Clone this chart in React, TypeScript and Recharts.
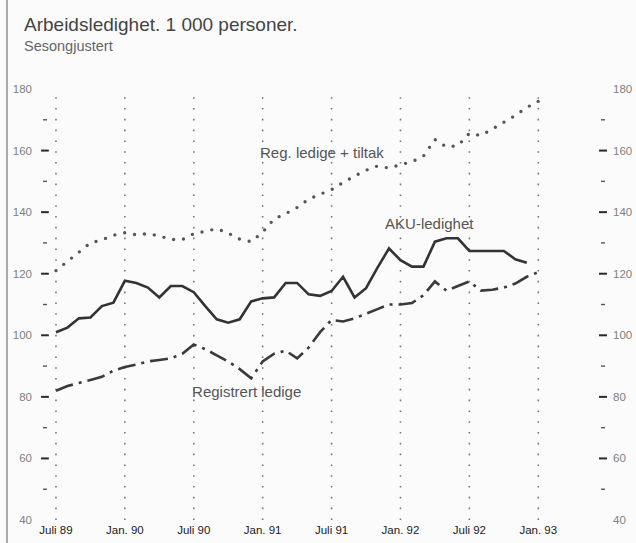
import React from "react"
import { LineChart, Line, XAxis, YAxis, ReferenceLine, ReferenceDot } from "recharts"

// monthly, Juli 89 .. Jan. 93 (43 months)
const akuLedighet = [
  101, 102.5, 105.5, 105.8, 109.5, 110.6, 117.7, 117, 115.5, 112.3, 116, 116, 114, 109.5, 105.2, 104.1, 105.2,
  111, 112, 112.3, 117, 117, 113.3, 112.8, 114.4, 119, 112.3, 115.3, 122, 128.2, 124.4, 122.3, 122.3, 130.4,
  131.5, 131.5, 127.4, 127.4, 127.4, 127.4, 124.7, 123.6, null,
]
const registrertLedige = [
  82, 83.5, 84.5, 85.5, 86.5, 88.5, 89.7, 90.5, 91.5, 92, 92.5, 94, 97, 95.5, 93.5, 91.5, 89, 86, 91.5, 94, 95,
  92.5, 96, 101, 105, 104.5, 105.5, 107, 108.5, 110, 110, 110.5, 113, 117.5, 114.5, 116, 117.5, 114.5, 114.8,
  115.5, 116.8, 119, 120.5,
]
const regLedigeTiltak = [
  121, 124, 127, 130, 131, 132.5, 133.3, 132.6, 133, 132.3, 131.1, 131.1, 133, 133.8, 134.6, 133.2, 131.2, 130.4,
  133.5, 137.8, 139.5, 141.5, 144.2, 145.8, 147.3, 149.6, 151.7, 153.6, 155, 154.3, 155.4, 156.4, 158.2, 163.6,
  161.2, 161.6, 165.6, 164.9, 167, 169.2, 171.4, 174, 176,
]
const xTickLabels = ["Juli 89", "Jan. 90", "Juli 90", "Jan. 91", "Juli 91", "Jan. 92", "Juli 92", "Jan. 93"]
const xTicks = xTickLabels.map((_, k) => k * 6)
const yTicks = [40, 50, 60, 70, 80, 90, 100, 110, 120, 130, 140, 150, 160, 170, 180]
const yMajorMarks = [60, 80, 100, 120, 140, 160]

const data = regLedigeTiltak.map((v, i) => ({
  i,
  aku: akuLedighet[i],
  reg: registrertLedige[i],
  tiltak: v,
}))

const font = "'Liberation Sans', Arial, sans-serif"

// short marks for the 10s, labels for every 20 (long left marks are reference segments below)
const YTick = ({ x, y, payload, side }: any) => {
  const v = Number(payload.value)
  const major = v % 20 === 0
  const edge = v === 40 || v === 180
  const left = side === "left"
  const d = left ? -1 : 1
  const len = major ? 8 : 4
  const start = major ? 1 : 3
  return (
    <g>
      {!edge && (left ? !major : true) && (
        <rect
          x={left ? x - start - len : x + start}
          y={y - (major ? 1 : 0.7)}
          width={len}
          height={major ? 2 : 1.4}
          fill={major ? "#2a2a2a" : "#555"}
        />
      )}
      {major && (
        <text
          x={x + d * (left ? 18 : 15)}
          y={y}
          textAnchor={left ? "end" : "start"}
          dominantBaseline="central"
          fontSize={11.5}
          fontFamily={font}
          fill="#808080"
        >
          {v}
        </text>
      )}
    </g>
  )
}

const label = (text: string) => (p: any) => (
  <text x={p.cx} y={p.cy} dominantBaseline="central" fontSize={15} fontFamily={font} fill="#555">
    {text}
  </text>
)

export default function App() {
  return (
    <div style={{ position: "relative", width: 636, height: 543, background: "#fbfbfb", overflow: "hidden" }}>
      <style>{"body{margin:0}"}</style>
      <div style={{ position: "absolute", left: 6, top: 0, width: 1.5, height: 543, background: "#aaa" }} />
      <div style={{ position: "absolute", left: 24, top: 14, fontFamily: font, color: "#444" }}>
        <div style={{ fontSize: 19, lineHeight: "22px" }}>Arbeidsledighet. 1 000 personer.</div>
        <div style={{ fontSize: 14.5, lineHeight: "20px", color: "#666" }}>Sesongjustert</div>
      </div>
      <LineChart width={636} height={543} data={data} margin={{ top: 89, right: 0, bottom: 0, left: 0 }}>
        <XAxis
          dataKey="i"
          type="number"
          domain={[-0.52, 47.2]}
          allowDataOverflow
          ticks={xTicks}
          interval={0}
          tickFormatter={(v: number) => xTickLabels[v / 6]}
          axisLine={false}
          tickLine={false}
          tickSize={0}
          tickMargin={6}
          height={23}
          tick={{ fontSize: 11.5, fill: "#1a1a1a", fontFamily: font }}
        />
        <YAxis
          yAxisId="left"
          orientation="left"
          domain={[40, 180]}
          ticks={yTicks}
          interval={0}
          width={50}
          axisLine={false}
          tickLine={false}
          tickSize={0}
          tickMargin={0}
          tick={<YTick side="left" />}
        />
        <YAxis
          yAxisId="right"
          orientation="right"
          domain={[40, 180]}
          ticks={yTicks}
          interval={0}
          width={38}
          axisLine={false}
          tickLine={false}
          tickSize={0}
          tickMargin={0}
          tick={<YTick side="right" />}
        />
        {xTicks.map((t) => (
          <ReferenceLine
            key={t}
            yAxisId="left"
            x={t}
            stroke="#777"
            strokeWidth={1.6}
            strokeDasharray="1.6 9.2"
          />
        ))}
        {yMajorMarks.map((v) => (
          <ReferenceLine
            key={`m${v}`}
            yAxisId="left"
            segment={[
              { x: -1.3, y: v },
              { x: -0.62, y: v },
            ]}
            ifOverflow="visible"
            stroke="#2a2a2a"
            strokeWidth={2}
          />
        ))}
        <Line
          yAxisId="right"
          type="linear"
          dataKey="tiltak"
          stroke="#555"
          strokeWidth={3.4}
          strokeDasharray="0 10"
          strokeLinecap="round"
          dot={false}
          isAnimationActive={false}
        />
        <Line
          yAxisId="left"
          type="linear"
          dataKey="reg"
          stroke="#3a3a3a"
          strokeWidth={2.6}
          strokeDasharray="18 6 3 6"
          dot={false}
          isAnimationActive={false}
        />
        <Line
          yAxisId="left"
          type="linear"
          dataKey="aku"
          stroke="#333"
          strokeWidth={2.6}
          dot={false}
          isAnimationActive={false}
        />
        <ReferenceDot yAxisId="left" x={17.77} y={159.5} r={0} shape={label("Reg. ledige + tiltak")} />
        <ReferenceDot yAxisId="left" x={28.66} y={136.4} r={0} shape={label("AKU-ledighet")} />
        <ReferenceDot yAxisId="left" x={11.85} y={81.9} r={0} shape={label("Registrert ledige")} />
      </LineChart>
    </div>
  )
}
